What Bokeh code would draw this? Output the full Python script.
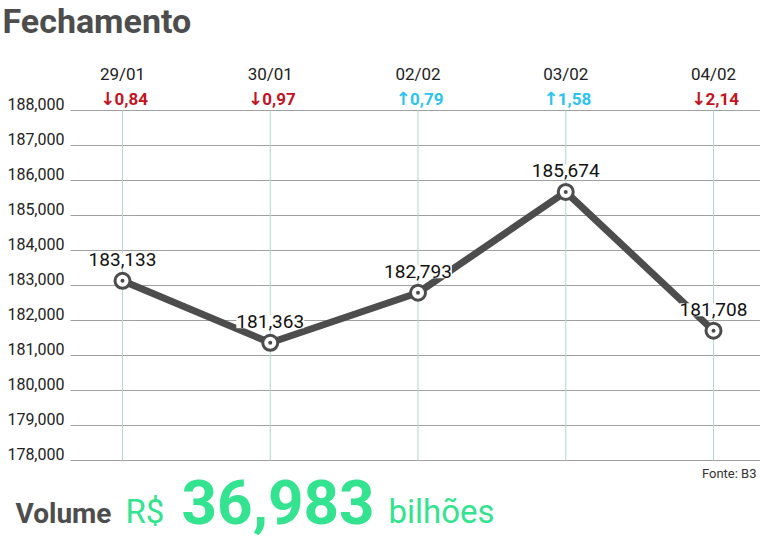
from bokeh.plotting import figure
from bokeh.models import Range1d, ColumnDataSource, LabelSet, Label
from bokeh.core.properties import value
from bokeh.embed import file_html
from bokeh.resources import INLINE

# ---- data ----
dates = ["29/01", "30/01", "02/02", "03/02", "04/02"]
closes = [183133, 181363, 182793, 185674, 181708]
changes = [-0.84, -0.97, 0.79, 1.58, -2.14]
y_ticks = [178000, 179000, 180000, 181000, 182000, 183000,
           184000, 185000, 186000, 187000, 188000]
title_text = "Fechamento"
volume_value = "36,983"
source_text = "Fonte: B3"

RED = "#c2141f"
CYAN = "#2cc3ee"
GREEN = "#33e38f"
DARK = "#4d4d4d"

# ---- layout (canvas pixels) ----
W, H = 760, 540
PLOT_TOP, PLOT_BOTTOM = 110, 460      # pixel rows of the top / bottom tick
FIRST_X, STEP_X = 122, 147.75         # pixel column of first date, spacing
GRID_LEFT = 70                         # where horizontal grid lines start

y_lo, y_hi = y_ticks[0], y_ticks[-1]
ppu = (PLOT_BOTTOM - PLOT_TOP) / (y_hi - y_lo)
y_range = Range1d(y_lo - (H - PLOT_BOTTOM) / ppu, y_hi + PLOT_TOP / ppu)
x_range = Range1d(-FIRST_X / STEP_X, (W - FIRST_X) / STEP_X)
x_grid_left = (GRID_LEFT - FIRST_X) / STEP_X

idx = list(range(len(dates)))

p = figure(width=W, height=H, x_range=x_range, y_range=y_range,
           x_axis_type=None, y_axis_type=None, toolbar_location=None,
           output_backend="svg", min_border=0, outline_line_color=None,
           background_fill_color="white", border_fill_color="white")
p.grid.visible = False

# grid lines
p.segment(x0=[x_grid_left] * len(y_ticks), x1=[x_range.end] * len(y_ticks),
          y0=y_ticks, y1=y_ticks, line_color="#a0a0a0", line_width=1)
p.segment(x0=idx, x1=idx, y0=[y_lo] * len(idx), y1=[y_hi] * len(idx),
          line_color="#b3d6cf", line_width=1)

# y tick labels
yt = ColumnDataSource(dict(x=[x_grid_left] * len(y_ticks), y=y_ticks,
                           t=[f"{v:,}" for v in y_ticks]))
p.add_layout(LabelSet(x="x", y="y", text="t", source=yt, x_offset=-6, y_offset=1,
                      text_align="right", text_baseline="alphabetic",
                      text_font=value("Roboto"), text_font_size="16px",
                      text_color="#222222"))

# date labels
dt = ColumnDataSource(dict(x=idx, y=[y_hi] * len(idx), t=dates))
p.add_layout(LabelSet(x="x", y="y", text="t", source=dt, y_offset=37,
                      text_align="center", text_baseline="middle",
                      text_font=value("Roboto"), text_font_size="17px",
                      text_color="#222222"))

# change labels: arrow + number
chg = ColumnDataSource(dict(
    x=idx, y=[y_hi] * len(idx),
    a=["\u2191" if c > 0 else "\u2193" for c in changes],
    t=[f"{abs(c):.2f}".replace(".", ",") for c in changes],
    c=[CYAN if c > 0 else RED for c in changes]))
p.add_layout(LabelSet(x="x", y="y", text="a", source=chg, x_offset=-15, y_offset=12,
                      text_align="center", text_baseline="middle",
                      text_font=value("DejaVu Sans"), text_font_size="18px",
                      text_font_style="bold", text_color="c"))
p.add_layout(LabelSet(x="x", y="y", text="t", source=chg, x_offset=-8, y_offset=12,
                      text_align="left", text_baseline="middle",
                      text_font=value("Roboto"), text_font_size="17px",
                      text_font_style="bold", text_color="c"))

# line + markers
p.line(idx, closes, line_color=DARK, line_width=7)
p.scatter(idx, closes, size=15, marker="circle", fill_color="white",
          line_color=DARK, line_width=3)
p.scatter(idx, closes, size=4, marker="circle", fill_color=DARK, line_color=None)

# value labels
vals = ColumnDataSource(dict(x=idx, y=closes, t=[f"{c:,}" for c in closes]))
p.add_layout(LabelSet(x="x", y="y", text="t", source=vals, y_offset=21,
                      text_align="center", text_baseline="middle",
                      text_font=value("Roboto"),
                      text_font_size="19px", text_color="#111111",
                      background_fill_color="white"))


def top_label(text, x, y_mid, size, color, bold=False, align="left"):
    return Label(x=x, y=H - y_mid, x_units="screen", y_units="screen", text=text,
                 text_font="Roboto", text_font_size=f"{size}px",
                 text_font_style="bold" if bold else "normal",
                 text_color=color, text_align=align, text_baseline="middle")


# title, source, volume line
p.add_layout(top_label(title_text, 2, 20, 34, DARK, bold=True))
p.add_layout(top_label(source_text, W - 4, 473, 13, "#333333", align="right"))
p.add_layout(top_label("Volume", 15, 513, 28, DARK, bold=True))
p.add_layout(top_label("R$", 125, 511, 33, GREEN))
p.add_layout(top_label(volume_value, 181, 501, 62, GREEN, bold=True))
p.add_layout(top_label("bilhões", 388, 511, 33, GREEN))

open("out.html", "w").write(file_html(p, INLINE))
